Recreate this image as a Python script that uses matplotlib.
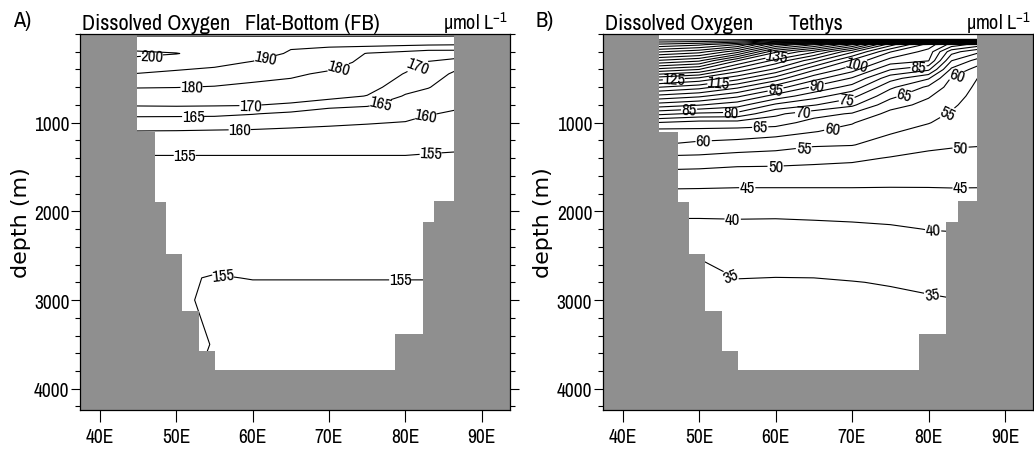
import numpy as np
import matplotlib
matplotlib.use('Agg')
import matplotlib.pyplot as plt
from matplotlib.ticker import MultipleLocator, FixedLocator

plt.rcParams['font.family'] = ['Archivo Narrow', 'Liberation Sans', 'DejaVu Sans']
plt.rcParams['mathtext.fontset'] = 'custom'
plt.rcParams['mathtext.rm'] = 'Archivo Narrow'

# longitudes of the profiles (deg E) and depth levels (m)
lons = [44, 50, 55, 60, 65, 70, 75, 80, 83, 87]

# --- Flat-Bottom run: one oxygen profile per longitude
fb_depths = [0, 30, 120, 220, 320, 450, 600, 700, 800, 900, 1000, 1100,
             1300, 1600, 2000, 2500, 2750, 3000, 3500, 4300]
fb_profiles = [
    [188, 190.6, 195.6, 202, 197, 190, 180.5, 175.5, 170.5, 166, 163, 159.8, 155.3, 154, 153.2, 154.4, 154.95, 155.5, 156.3, 157],
    [188, 190.6, 195.5, 200.3, 195, 187.8, 180.2, 175, 170.7, 166, 162.8, 159.7, 155.3, 154, 153.2, 154.5, 154.8, 154.5, 154.5, 154.8],
    [187.5, 190.6, 194, 197, 193, 186, 179.5, 175, 170.5, 166, 162.5, 159.5, 155.3, 154, 153.2, 154.46, 155.1, 155.54, 155.07, 155.8],
    [187, 190.6, 193, 195, 189.3, 183.5, 178, 174, 170.3, 165.2, 162, 159.4, 155.3, 154, 153.2, 154.4, 154.95, 155.5, 156.3, 157],
    [187, 190.6, 191.5, 188.8, 185, 181.5, 177, 173.5, 169, 164, 161.5, 159, 155.3, 154, 153.2, 154.4, 154.95, 155.5, 156.3, 157],
    [187, 190.6, 191, 187.5, 184, 178.5, 174.5, 172, 166.5, 162.5, 160.8, 158.8, 155.3, 154, 153.2, 154.4, 154.95, 155.5, 156.3, 157],
    [187, 190.6, 192.5, 179.5, 177.5, 175, 172, 169.8, 165.5, 162.5, 160.3, 158.5, 155.3, 154, 153.2, 154.4, 154.95, 155.5, 156.3, 157],
    [187, 190.6, 191.5, 176.5, 173, 169.6, 167, 164.5, 163, 161.5, 159.8, 158.3, 155.3, 154, 153.2, 154.4, 154.95, 155.5, 156.3, 157],
    [187, 190.6, 190.8, 174, 169.5, 167, 165.2, 163.5, 162, 160.2, 158.8, 157.8, 155.2, 154, 153.2, 154.4, 154.95, 155.5, 156.3, 157],
    [188, 190.6, 190.3, 174, 166.5, 164, 162.5, 161.5, 160.5, 159.5, 158.5, 157.5, 155.1, 154, 153.2, 154.4, 154.95, 155.5, 156.3, 157],
]
fb_levels = [155, 160, 165, 170, 180, 190, 200]

# --- Tethys run
te_depths = [0, 60, 120, 200, 300, 400, 500, 600, 700, 800, 900, 1000, 1100,
             1250, 1400, 1600, 1800, 2000, 2200, 2500, 2800, 3200, 3800, 4300]
te_profiles = [
    [203, 201.5, 189, 176, 160, 144, 128, 115.5, 104, 93, 81.5, 70, 63, 60.2, 54, 48, 44, 41, 38.5, 35.2, 33.5, 32.5, 32, 32],
    [203, 201.5, 186, 172, 156, 140, 124, 112, 101, 90.3, 79, 68, 63.5, 58.7, 53.8, 47.5, 44, 41, 38.5, 35.2, 33.5, 32.5, 32, 32],
    [203, 201.5, 180, 162, 140.3, 128, 117, 106, 96, 87, 78.5, 68, 63, 58, 52.8, 47, 44, 40.8, 39, 37, 34.7, 33, 32.5, 32.5],
    [203, 201.5, 160, 141, 128.5, 119, 108, 97.5, 88, 79, 71, 67.3, 62, 57, 52.5, 47, 44, 40.5, 39.3, 37.2, 34.5, 33, 32.5, 32.5],
    [203, 201.5, 150.3, 131, 117, 106, 97, 89, 82, 75.3, 67, 63, 60.2, 55.5, 51.7, 47, 44, 41, 39, 37, 34.6, 33, 32.5, 32.5],
    [203, 201.5, 135.3, 116, 104, 97, 89.5, 83, 76.5, 71, 64.5, 60.3, 58.5, 55.2, 51, 47, 44, 41.2, 39.2, 37, 34.9, 33, 32.5, 32.5],
    [203, 201.5, 112, 100.3, 93, 85.3, 77, 71, 66.5, 62, 58.5, 56.5, 55.5, 53, 49.7, 46.8, 44, 41.5, 39.5, 37.5, 35.2, 33.5, 33, 33],
    [203, 201.5, 98, 93, 90.3, 81, 70.5, 64, 60.5, 58.5, 56.5, 55.2, 53.5, 51, 48.8, 46.5, 44.2, 41.8, 40.1, 37.8, 35.6, 33.8, 33.3, 33.3],
    [203, 201.5, 88, 77, 70.2, 64, 59.5, 58, 56.8, 55.7, 54.6, 53.5, 52.5, 50.5, 48.5, 46.5, 44.3, 42, 40.2, 38, 35.8, 34, 33.5, 33.5],
    [203, 201.5, 82, 70.2, 62, 57, 54.2, 53.5, 53, 52.5, 52, 51.5, 51, 50.2, 48.4, 46.4, 44.3, 42, 40.2, 38, 35.8, 34, 33.5, 33.5],
]
te_levels = list(range(35, 205, 5))

# --- bathymetry (step edges in deg E, bottom depth of each step in m)
bathy_edges = [37, 44.8, 47.2, 48.7, 50.8, 53.0, 55.1, 78.7, 82.3, 83.8, 86.3, 94]
bathy_depth = [0, 1100, 1900, 2480, 3120, 3570, 3790, 3385, 2120, 1880, 0]

xtick_vals = [40, 50, 60, 70, 80, 90]
xtick_labels = ['40E', '50E', '60E', '70E', '80E', '90E']

# label spots (lon, depth) for the contour labels
fb_label_pos = [(46.8, 235), (61.6, 260), (52, 620), (71.2, 375), (59.7, 810),
                (81.6, 360), (52.2, 925), (76.7, 770), (58.3, 1090), (82.6, 900),
                (51.1, 1345), (83.3, 1370), (56.1, 2747), (79.3, 2755)]
te_label_pos = [(60.1, 245), (46.7, 517), (52.5, 530), (70.6, 357), (60, 626),
                (65.4, 582), (78.7, 377), (48.7, 870), (54.2, 876), (69.3, 730),
                (63.6, 877), (76.9, 710), (58, 1066), (83.7, 472), (67.4, 1066),
                (50.6, 1215), (82.5, 900), (63.7, 1290), (60, 1477), (84.2, 1290),
                (56.3, 1740), (84.2, 1740), (54.4, 2055), (80.6, 2220),
                (54.2, 2720), (80.5, 2900)]

land = '#8f8f8f'

fig = plt.figure(figsize=(10.34, 4.52), dpi=100)
ax_a = fig.add_axes([0.0774, 0.0907, 0.4159, 0.8319])
ax_b = fig.add_axes([0.5829, 0.0907, 0.4164, 0.8319])


def draw_panel(ax, depths, profiles, levels, label_pos, tag, title, title_x, title_ha):
    z = np.array(profiles).T
    cs = ax.contour(lons, depths, z, levels=levels, colors='k',
                    linewidths=0.8, zorder=2)
    texts = ax.clabel(cs, levels, manual=label_pos, inline=True, fmt='%d',
                      fontsize=12, inline_spacing=3)
    for t in texts:
        t.set_zorder(4)

    ax.fill_between(bathy_edges, bathy_depth + [bathy_depth[-1]], 4400,
                    step='post', color=land, linewidth=0, zorder=3)

    ax.set_xlim(37.4, 93.7)
    ax.set_ylim(4240, 0)
    ax.xaxis.set_major_locator(FixedLocator(xtick_vals))
    ax.set_xticklabels(xtick_labels)
    ax.yaxis.set_major_locator(FixedLocator([1000, 2000, 3000, 4000]))
    ax.yaxis.set_minor_locator(MultipleLocator(200))
    ax.tick_params(axis='x', which='major', direction='out', length=8.5,
                   width=0.8, labelsize=14, pad=4)
    ax.tick_params(axis='y', which='major', direction='out', length=6.5,
                   width=0.8, labelsize=14, pad=1, right=True)
    ax.tick_params(axis='y', which='minor', direction='out', length=3.6,
                   width=0.8, right=True)
    for sp in ax.spines.values():
        sp.set_linewidth(0.9)
        sp.set_zorder(5)

    ax.set_ylabel('depth (m)', family='DejaVu Sans', fontsize=16)
    ax.yaxis.set_label_coords(-0.115, 0.5)

    ax.text(-0.156, 1.02, tag, transform=ax.transAxes, fontsize=16,
            ha='left', va='baseline')
    ax.text(0.005, 1.013, 'Dissolved Oxygen', transform=ax.transAxes,
            fontsize=16, ha='left', va='baseline')
    ax.text(title_x, 1.013, title, transform=ax.transAxes, fontsize=16,
            ha=title_ha, va='baseline')
    ax.text(0.995, 1.013, r'µmol L$^{-1}$', transform=ax.transAxes,
            fontsize=14.5, ha='right', va='baseline')


draw_panel(ax_a, fb_depths, fb_profiles, fb_levels, fb_label_pos,
           'A)', 'Flat-Bottom (FB)', 0.384, 'left')
draw_panel(ax_b, te_depths, te_profiles, te_levels, te_label_pos,
           'B)', 'Tethys', 0.495, 'center')

fig.savefig('out.png', dpi=100)
